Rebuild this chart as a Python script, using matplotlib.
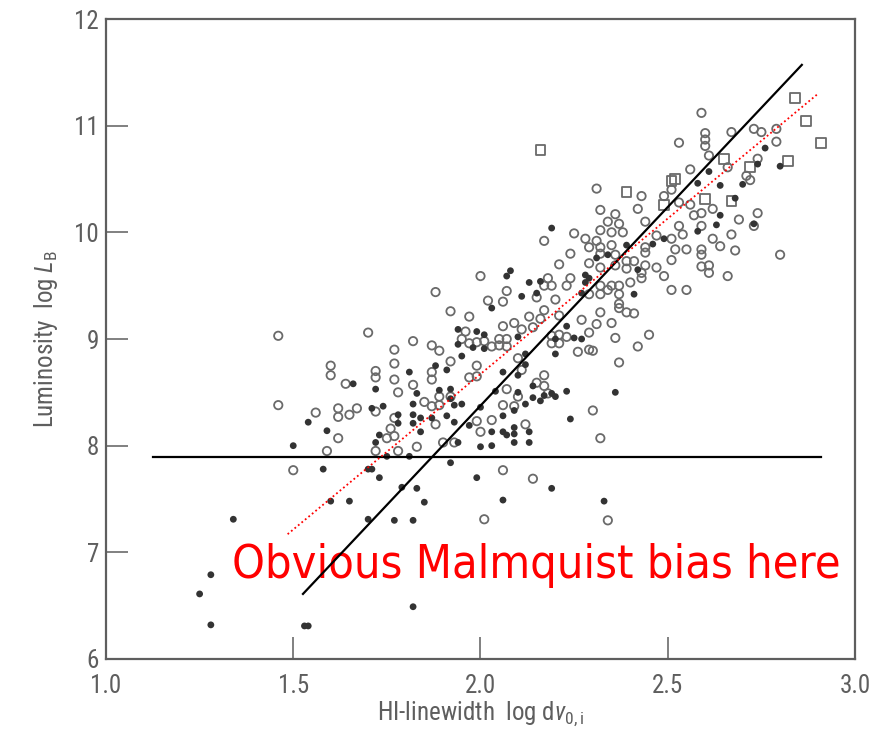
import matplotlib
matplotlib.use("Agg")
import matplotlib.pyplot as plt
from matplotlib import font_manager as fm

# filled dots (log dv, log L)
fx = [1.34, 1.60, 1.65, 1.70, 1.77, 1.82, 1.83, 1.85, 1.79, 1.28, 1.25, 1.28, 1.53, 1.54, 1.82,
      1.66, 1.72, 1.71, 1.74, 1.78, 1.78, 1.54, 1.59, 1.73, 1.72, 1.50, 1.75, 1.58, 1.70, 1.71,
      1.73, 1.81, 1.92, 1.99, 2.19, 2.06, 2.33, 2.13, 2.13, 1.94, 2.00, 2.03, 2.03, 2.06, 2.07,
      2.09, 2.09, 1.84, 2.09, 2.07, 2.08, 2.13, 2.16, 2.11, 2.15, 2.03, 2.28, 2.28, 2.27, 2.23,
      2.27, 2.20, 2.20, 2.10, 2.12, 1.94, 1.99, 2.01, 1.94, 1.98, 2.01, 1.95, 1.88, 1.91, 1.81,
      2.06, 2.10, 2.12, 1.89, 1.92, 1.83, 1.92, 1.95, 1.93, 1.82, 1.82, 1.84, 1.87, 1.82, 1.91,
      1.93, 1.97, 2.00, 2.04, 2.06, 2.09, 2.10, 2.12, 2.14, 2.14, 2.17, 2.16, 2.19, 2.20, 2.23,
      2.24, 2.19, 2.31, 2.34, 2.39, 2.46, 2.49, 2.42, 2.41, 2.29, 2.25, 2.58, 2.61, 2.64, 2.63,
      2.64, 2.58, 2.68, 2.76, 2.74, 2.80, 2.70, 2.73, 2.36]
fy = [7.31, 7.48, 7.48, 7.31, 7.30, 7.30, 7.60, 7.47, 7.61, 6.79, 6.61, 6.32, 6.31, 6.31, 6.49,
      8.58, 8.53, 8.35, 8.37, 8.29, 8.21, 8.22, 8.14, 8.10, 8.03, 8.00, 7.90, 7.78, 7.78, 7.78,
      7.70, 7.90, 7.84, 7.70, 7.60, 7.49, 7.48, 8.03, 8.13, 8.03, 7.99, 8.00, 8.13, 8.13, 8.10,
      8.11, 8.03, 8.13, 8.17, 9.59, 9.64, 9.53, 9.54, 9.40, 9.43, 9.29, 9.60, 9.53, 9.43, 9.12,
      9.00, 9.00, 8.86, 9.02, 8.86, 9.09, 9.07, 9.04, 8.95, 8.92, 8.91, 8.84, 8.75, 8.71, 8.69,
      8.69, 8.66, 8.76, 8.52, 8.53, 8.49, 8.44, 8.39, 8.38, 8.39, 8.29, 8.26, 8.26, 8.21, 8.28,
      8.22, 8.19, 8.36, 8.51, 8.28, 8.33, 8.50, 8.39, 8.56, 8.45, 8.47, 8.42, 8.49, 8.46, 8.51,
      8.25, 10.04, 9.76, 9.79, 9.88, 9.89, 9.94, 9.65, 9.42, 9.57, 9.01, 10.01, 10.57, 10.44, 10.07,
      10.16, 10.46, 10.32, 10.79, 10.64, 10.62, 10.45, 10.08, 8.50]

# open circles
ox = [1.46, 1.70, 1.77, 1.77, 1.60, 1.60, 1.72, 1.72, 1.77, 1.64, 1.78, 1.46, 1.56, 1.62, 1.62,
      1.65, 1.67, 1.72, 1.77, 1.76, 1.75, 1.77, 1.62, 1.59, 1.72, 1.78, 1.50, 1.83, 1.90, 1.93,
      2.00, 2.06, 2.14, 2.32, 2.01, 2.34, 2.24, 2.29, 2.21, 2.00, 1.88, 2.02, 2.06, 2.07, 1.92,
      1.97, 2.13, 2.15, 2.17, 2.19, 2.18, 2.24, 2.23, 2.20, 2.17, 2.21, 2.06, 2.09, 2.11, 2.14,
      2.16, 1.96, 1.95, 1.97, 1.99, 2.01, 2.03, 2.05, 2.07, 2.05, 2.07, 1.82, 1.87, 1.89, 1.92,
      1.99, 1.87, 1.87, 1.97, 1.99, 1.82, 1.89, 1.92, 1.85, 1.87, 1.89, 1.88, 1.99, 2.03, 2.06,
      2.07, 2.09, 2.12, 2.10, 2.10, 2.11, 2.17, 2.15, 2.17, 2.18, 2.19, 2.21, 2.23, 2.19, 2.26,
      2.29, 2.30, 2.27, 2.29, 2.30, 2.31, 2.43, 2.49, 2.56, 2.32, 2.36, 2.42, 2.34, 2.35, 2.37,
      2.38, 2.44, 2.32, 2.25, 2.28, 2.17, 2.31, 2.29, 2.32, 2.35, 2.32, 2.36, 2.47, 2.51, 2.54,
      2.52, 2.55, 2.59, 2.59, 2.64, 2.68, 2.53, 2.59, 2.62, 2.67, 2.57, 2.59, 2.62, 2.53, 2.32,
      2.36, 2.39, 2.41, 2.39, 2.43, 2.47, 2.51, 2.49, 2.59, 2.61, 2.61, 2.66, 2.44, 2.32, 2.35,
      2.34, 2.37, 2.40, 2.43, 2.32, 2.29, 2.37, 2.51, 2.55, 2.31, 2.32, 2.37, 2.37, 2.39, 2.41,
      2.35, 2.36, 2.45, 2.42, 2.21, 2.59, 2.53, 2.60, 2.60, 2.60, 2.61, 2.67, 2.73, 2.75, 2.79,
      2.79, 2.74, 2.66, 2.71, 2.72, 2.51, 2.56, 2.74, 2.69, 2.73, 2.80, 2.44, 2.44, 2.37]
oy = [9.03, 9.06, 8.90, 8.77, 8.75, 8.66, 8.70, 8.64, 8.62, 8.58, 8.50, 8.38, 8.31, 8.35, 8.27,
      8.29, 8.35, 8.32, 8.26, 8.16, 8.07, 8.09, 8.07, 7.95, 7.95, 7.95, 7.77, 7.99, 8.03, 8.03,
      8.13, 7.77, 7.69, 8.07, 7.31, 7.30, 9.80, 9.71, 9.70, 9.59, 9.44, 9.36, 9.35, 9.45, 9.26,
      9.21, 9.21, 9.39, 9.50, 9.50, 9.57, 9.57, 9.50, 9.37, 9.27, 9.22, 9.12, 9.15, 9.09, 9.11,
      9.19, 9.07, 9.00, 8.96, 8.97, 8.98, 8.93, 9.00, 9.00, 8.94, 8.93, 8.98, 8.94, 8.89, 8.79,
      8.75, 8.69, 8.62, 8.64, 8.65, 8.57, 8.46, 8.46, 8.41, 8.37, 8.38, 8.20, 8.23, 8.24, 8.38,
      8.53, 8.37, 8.20, 8.46, 8.82, 8.71, 8.66, 8.59, 8.56, 8.49, 9.03, 9.04, 9.02, 8.96, 8.88,
      8.90, 8.89, 9.18, 9.06, 8.33, 10.41, 10.34, 10.34, 10.59, 10.21, 10.17, 10.22, 10.10, 10.00, 10.08,
      10.00, 10.10, 10.02, 9.99, 9.94, 9.92, 9.92, 9.86, 9.86, 9.88, 9.80, 9.79, 9.97, 9.94, 9.98,
      9.84, 9.84, 9.84, 9.79, 9.87, 9.83, 10.06, 10.06, 9.94, 9.98, 10.16, 10.18, 10.22, 10.28, 9.67,
      9.69, 9.73, 9.73, 9.66, 9.62, 9.67, 9.74, 9.59, 9.68, 9.69, 9.62, 9.59, 9.69, 9.50, 9.50,
      9.46, 9.50, 9.53, 9.57, 9.42, 9.42, 9.42, 9.46, 9.46, 9.14, 9.25, 9.33, 9.29, 9.25, 9.24,
      9.15, 9.01, 9.04, 8.93, 8.96, 11.12, 10.84, 10.93, 10.87, 10.81, 10.72, 10.94, 10.97, 10.94, 10.97,
      10.85, 10.69, 10.61, 10.53, 10.49, 10.40, 10.26, 10.18, 10.12, 10.06, 9.79, 9.86, 9.81, 8.78]

# open squares
sx = [2.16, 2.39, 2.51, 2.52, 2.49, 2.60, 2.65, 2.67, 2.72, 2.82, 2.84, 2.87, 2.91]
sy = [10.77, 10.38, 10.48, 10.50, 10.26, 10.31, 10.69, 10.29, 10.61, 10.67, 11.26, 11.04, 10.84]

# overlay lines
cut_x, cut_y = [1.125, 2.909], [7.89, 7.89]
fit_x, fit_y = [1.526, 2.858], [6.61, 11.57]
red_x, red_y = [1.485, 2.898], [7.17, 11.29]

xticks = [1.0, 1.5, 2.0, 2.5, 3.0]
xlabels = ['1.0', '1.5', '2.0', '2.5', '3.0']
yticks = [6, 7, 8, 9, 10, 11, 12]
ylabels = ['6', '7', '8', '9', '10', '11', '12']

# pick a narrow face for the axis text if one is around
names = {f.name for f in fm.fontManager.ttflist}
axis_font = 'Roboto'
for cand in ['Liberation Sans Narrow', 'Roboto Condensed', 'Open Sans Condensed', 'Arial Narrow']:
    if cand in names:
        axis_font = cand
        break
has_cond = any(f.name == 'DejaVu Sans' and 'condensed' in str(f.stretch) for f in fm.fontManager.ttflist)

plt.rcParams['font.family'] = [axis_font, 'DejaVu Sans']
plt.rcParams['mathtext.fontset'] = 'custom'
plt.rcParams['mathtext.rm'] = axis_font
plt.rcParams['mathtext.it'] = axis_font + ':italic'

grey = '#5e5e5e'
fig = plt.figure(figsize=(8.81, 7.31), dpi=100)
ax = fig.add_axes([0.1203, 0.0985, 0.8502, 0.8755])

ax.scatter(ox, oy, s=36, facecolors='none', edgecolors='#6a6a6a', linewidths=1.3, zorder=2)
ax.scatter(sx, sy, s=50, marker='s', facecolors='none', edgecolors='#6a6a6a', linewidths=1.3, zorder=2)
ax.scatter(fx, fy, s=24, color='#333333', edgecolors='none', zorder=3)

ax.plot(cut_x, cut_y, color='black', lw=1.6, zorder=4)
ax.plot(fit_x, fit_y, color='black', lw=1.6, zorder=4)
ax.plot(red_x, red_y, color='red', lw=1.3, ls=(0, (1, 1.5)), zorder=4)

txt = ax.text(1.336, 6.76, 'Obvious Malmquist bias here', color='red', fontsize=30,
              family='DejaVu Sans', fontstretch='condensed' if has_cond else 'normal',
              ha='left', va='baseline', zorder=3)
fig.canvas.draw()
w = txt.get_window_extent().width
txt.set_fontsize(30 * 608 / w)

ax.set_xlim(1.0, 3.0)
ax.set_ylim(6, 12)
ax.set_xticks(xticks)
ax.set_xticklabels(xlabels)
ax.set_yticks(yticks)
ax.set_yticklabels(ylabels)
ax.tick_params(direction='in', length=16, width=1.1, color=grey, labelcolor=grey,
               labelsize=18)
ax.tick_params(axis='x', pad=11)
ax.tick_params(axis='y', pad=5)
for sp in ax.spines.values():
    sp.set_color(grey)
    sp.set_linewidth(1.6)

ax.set_xlabel('HI-linewidth  log d$v_{0,\\mathrm{i}}$', fontsize=18, color=grey, labelpad=1)
ax.set_ylabel('Luminosity  log $L_{\\mathrm{B}}$', fontsize=18, color=grey, labelpad=10)

fig.savefig('out.png', dpi=100)
